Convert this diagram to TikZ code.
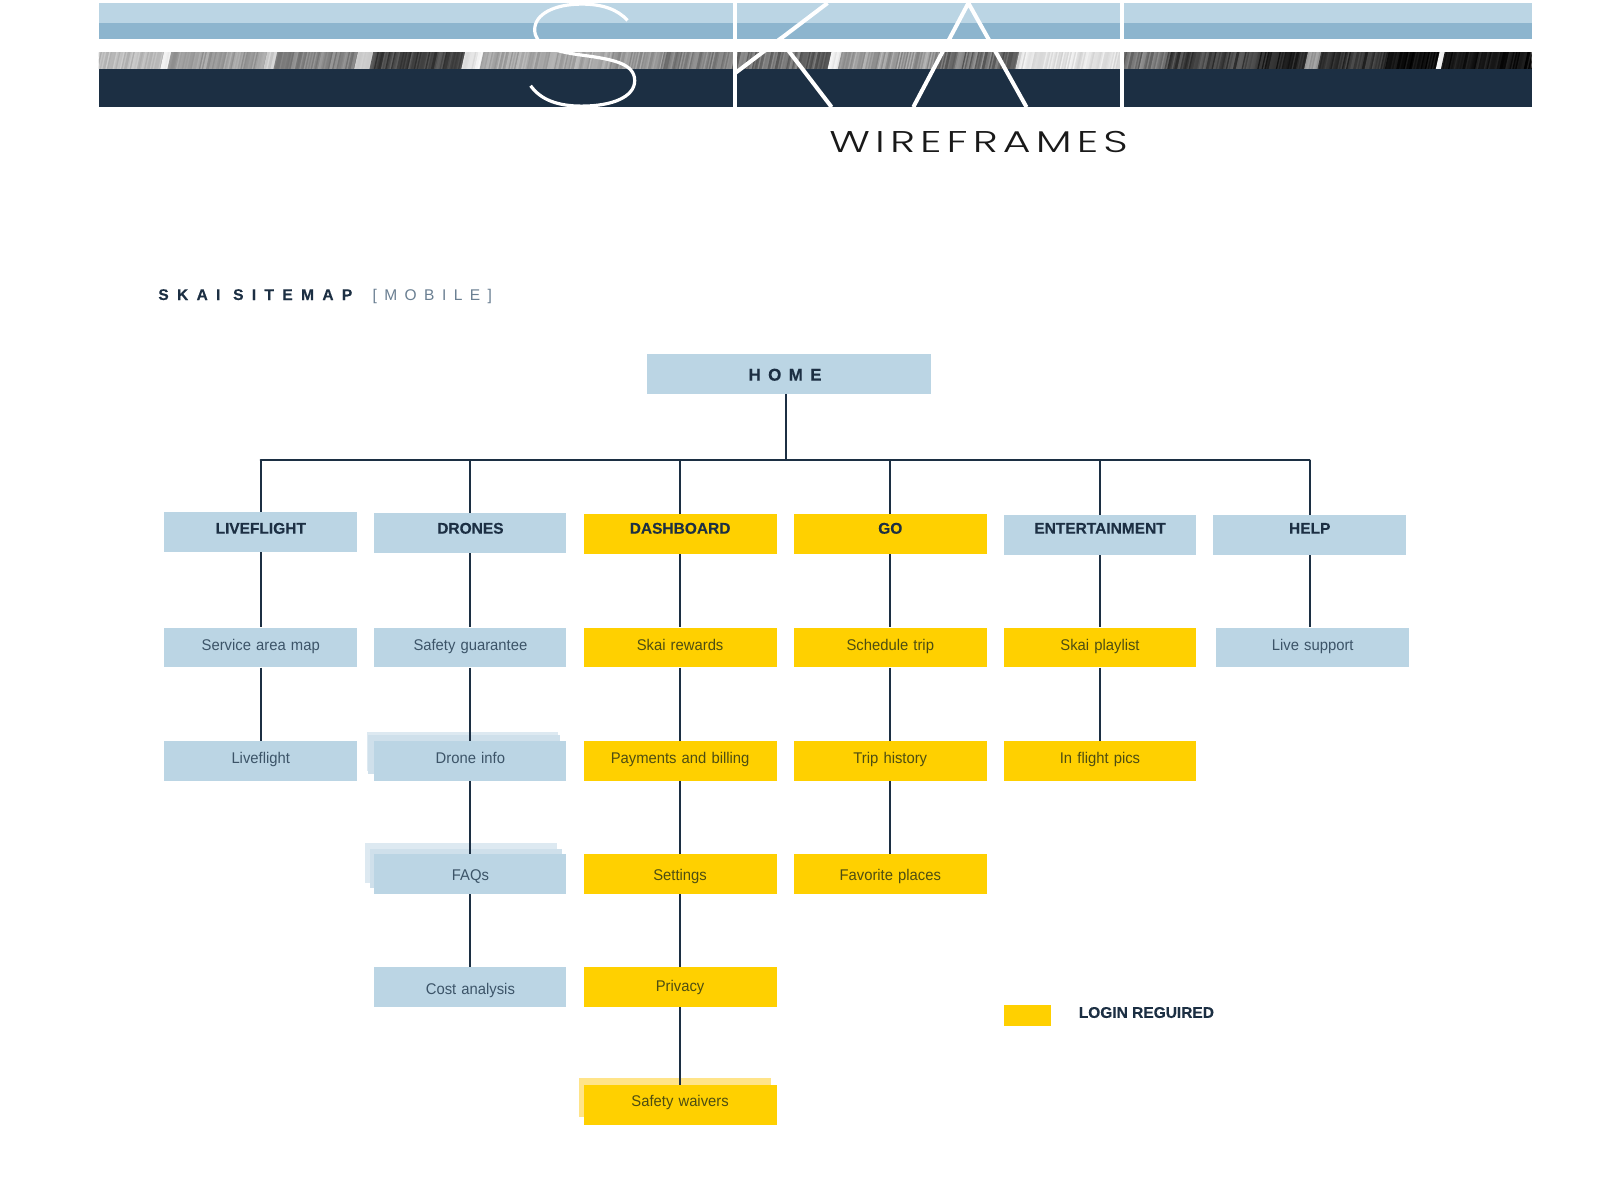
\documentclass[tikz,border=0pt]{standalone}
\usepackage{fontspec}
\setmainfont{Liberation Sans}
\newfontfamily\wffont[LetterSpace=12]{Poppins Light}
\newfontfamily\homefont[LetterSpace=43,FakeBold=0.3]{Liberation Sans Bold}
\newfontfamily\headfont[FakeBold=0.2]{Liberation Sans Bold}
\newfontfamily\mapfont[FakeStretch=0.955]{Liberation Sans}
\newfontfamily\spacedtitle[LetterSpace=54,FakeBold=0.2]{Liberation Sans Bold}
\newfontfamily\spacedlight[LetterSpace=48]{Liberation Sans}
\definecolor{skyb}{HTML}{BBD5E4}
\definecolor{midb}{HTML}{8DB5CE}
\definecolor{navyb}{HTML}{1C2F43}
\definecolor{goldb}{HTML}{FFD000}
\definecolor{ghosta}{HTML}{DDE9F1}
\definecolor{ghostb}{HTML}{CFE0EB}
\definecolor{ghosty}{HTML}{FFE489}
\definecolor{txtb}{HTML}{3C5468}
\definecolor{txty}{HTML}{4E4E12}
\definecolor{txtm}{HTML}{6A7F92}
\tikzset{
  bluebox/.style={fill=skyb,text=txtb},
  goldbox/.style={fill=goldb,text=txty},
  headtext/.style={font=\headfont\fontsize{15.5}{18}\selectfont,text=navyb},
  subtext/.style={font=\mapfont\fontsize{15.5}{18}\selectfont},
  link/.style={draw=navyb,line width=2pt},
  letter/.style={draw=white,line width=4pt}
}
\newcommand{\mapbox}[7]{%
  \pgfmathsetmacro{\boxw}{(#4-#2)*1.0204}%
  \pgfmathsetmacro{\boxh}{(#6)*1.0204}%
  \pgfmathsetmacro{\boxd}{(39-#6)*1.0204}%
  \node[#5,inner sep=0pt,text width=\boxw pt,align=center,text height=\boxh pt,text depth=\boxd pt]
    (#1) at ({(#2+#4)/2},{#3+19.5}) {#7};}
\begin{document}
\begin{tikzpicture}[x=1.0204pt,y=-1.0204pt]
\useasboundingbox (0,0) rectangle (1568,1176);
\fill[white] (0,0) rectangle (1568,1176);
% banner
\fill[skyb] (97,3) rectangle (1501,22.5);
\fill[midb] (97,22.5) rectangle (1501,38.5);
\fill[navyb] (97,67) rectangle (1501,105);
\begin{scope}
\clip (97,51) rectangle (1501,67);
\pgfmathsetseed{4711}
\foreach \xa/\xb/\base/\spr in {95/160/20/12,160/167/3/6,167/261/30/16,261/271/14/10,271/350/40/16,350/365/18/8,365/455/62/20,455/468/8/8,468/473/2/4,473/600/26/16,600/650/32/16,650/720/38/20,720/784/44/22,784/814/52/20,814/824/3/8,824/920/28/22,920/980/42/26,980/998/55/16,998/1101/4/14,1101/1144/42/24,1144/1235/62/22,1235/1281/76/18,1281/1294/34/12,1294/1360/70/18,1360/1410/88/12,1410/1415/2/4,1415/1505/84/16}{
  \pgfmathsetmacro{\xnext}{\xa+1.4}
  \foreach \x in {\xa,\xnext,...,\xb}{
    \pgfmathsetmacro{\v}{min(100,max(0,\base+\spr*rnd))}
    \draw[color=black!\v,line width=2pt] (\x+2,50) -- (\x-2,68);
  }
}
\end{scope}
% SKAI letters
\draw[letter,line width=3.2pt] (615,20) .. controls (605,9) and (590,4) .. (570,4) .. controls (543,4) and (524,14) .. (524,29) .. controls (524,44) and (540,50) .. (570,54) .. controls (600,58) and (622,62) .. (622,79) .. controls (622,95) and (600,104) .. (570,104) .. controls (547,104) and (530,98) .. (520,84);
\draw[letter] (720,3) -- (720,105);
\draw[letter] (720,72) -- (811,3);
\draw[letter] (763,37) -- (815,105);
\draw[letter] (895,105) -- (949,3) -- (1006,105);
\draw[letter] (1100,3) -- (1100,105);
\node[inner sep=0pt,font=\wffont\fontsize{30}{32}\selectfont,text=black!90,xscale=1.42] (wf) at (959,139) {WIREFRAMES};
% title
\node[inner sep=0pt,anchor=base west,font=\spacedtitle\fontsize{15.5}{18}\selectfont,text=navyb] (title) at (155,294) {SKAI SITEMAP};
\node[inner sep=0pt,anchor=base west,font=\spacedlight\fontsize{15.5}{18}\selectfont,text=txtm] (titleb) at (365,294) {[MOBILE]};
% ghosts
\fill[ghosta] (359.4,717.7) rectangle (547,756);
\fill[ghostb] (361,720.6) rectangle (548.5,758.5);
\fill[ghosta] (357.7,826.5) rectangle (545.6,865);
\fill[ghostb] (362.6,832.3) rectangle (550.4,870.5);
\fill[ghosty] (567.2,1056.8) rectangle (755.6,1094.3);
% boxes
\mapbox{home}{634}{347}{912}{bluebox,font=\homefont\fontsize{17}{18}\selectfont,text=navyb}{26}{\hspace*{-7.5pt}HOME}
\mapbox{live}{161}{502}{350}{bluebox,headtext}{21}{LIVEFLIGHT}
\mapbox{drones}{367}{503}{555}{bluebox,headtext}{20}{DRONES}
\mapbox{dash}{572}{504}{761}{goldbox,headtext}{19}{DASHBOARD}
\mapbox{go}{778}{504}{967}{goldbox,headtext}{19}{GO}
\mapbox{ent}{984}{505}{1172}{bluebox,headtext}{18}{ENTERTAINMENT}
\mapbox{help}{1189}{505}{1378}{bluebox,headtext}{18}{HELP}
\mapbox{svc}{161}{615}{350}{bluebox,subtext}{22}{Service area map}
\mapbox{safe}{367}{615}{555}{bluebox,subtext}{22}{Safety guarantee}
\mapbox{rew}{572}{615}{761}{goldbox,subtext}{22}{Skai rewards}
\mapbox{sched}{778}{615}{967}{goldbox,subtext}{22}{Schedule trip}
\mapbox{play}{984}{615}{1172}{goldbox,subtext}{22}{Skai playlist}
\mapbox{supp}{1192}{615}{1381}{bluebox,subtext}{22}{Live support}
\mapbox{lf}{161}{726}{350}{bluebox,subtext}{22}{Liveflight}
\mapbox{drone}{367}{726}{555}{bluebox,subtext}{22}{Drone info}
\mapbox{pay}{572}{726}{761}{goldbox,subtext}{22}{Payments and billing}
\mapbox{trip}{778}{726}{967}{goldbox,subtext}{22}{Trip history}
\mapbox{pics}{984}{726}{1172}{goldbox,subtext}{22}{In flight pics}
\mapbox{faq}{367}{837}{555}{bluebox,subtext}{26}{FAQs}
\mapbox{sett}{572}{837}{761}{goldbox,subtext}{26}{Settings}
\mapbox{fav}{778}{837}{967}{goldbox,subtext}{26}{Favorite places}
\mapbox{cost}{367}{948}{555}{bluebox,subtext}{27}{Cost analysis}
\mapbox{priv}{572}{948}{761}{goldbox,subtext}{24}{Privacy}
\mapbox{waiv}{572}{1063}{761}{goldbox,subtext}{21}{Safety waivers}
% legend
\node[fill=goldb,inner sep=0pt,minimum width=46*1.0204pt,minimum height=20*1.0204pt] (leg) at (1007,995) {};
\node[inner sep=0pt,anchor=base west,font=\headfont\fontsize{15.5}{18}\selectfont,text=navyb] (legt) at (1057,997.5) {LOGIN REGUIRED};
% connectors
\coordinate (homeout) at (770,386);
\coordinate (bus) at (770,451);
\draw[link] (homeout) -- (bus);
\draw[link,line cap=round] (bus -| live.north) -- (bus -| help.north);
\foreach \n in {live,drones,dash,go,ent,help}{\draw[link] (bus -| \n.north) -- (\n.north);}
\draw[link] (live.south) -- (svc.north);
\draw[link] (svc.south) -- (lf.north);
\draw[link] (drones.south) -- (safe.north);
\draw[link] (safe.south) -- (drone.north);
\draw[link] (drone.south) -- (faq.north);
\draw[link] (faq.south) -- (cost.north);
\draw[link] (dash.south) -- (rew.north);
\draw[link] (rew.south) -- (pay.north);
\draw[link] (pay.south) -- (sett.north);
\draw[link] (sett.south) -- (priv.north);
\draw[link] (priv.south) -- (waiv.north);
\draw[link] (go.south) -- (sched.north);
\draw[link] (sched.south) -- (trip.north);
\draw[link] (trip.south) -- (fav.north);
\draw[link] (ent.south) -- (play.north);
\draw[link] (play.south) -- (pics.north);
\draw[link] (help.south) -- (help.south |- supp.north);
\end{tikzpicture}
\end{document}
